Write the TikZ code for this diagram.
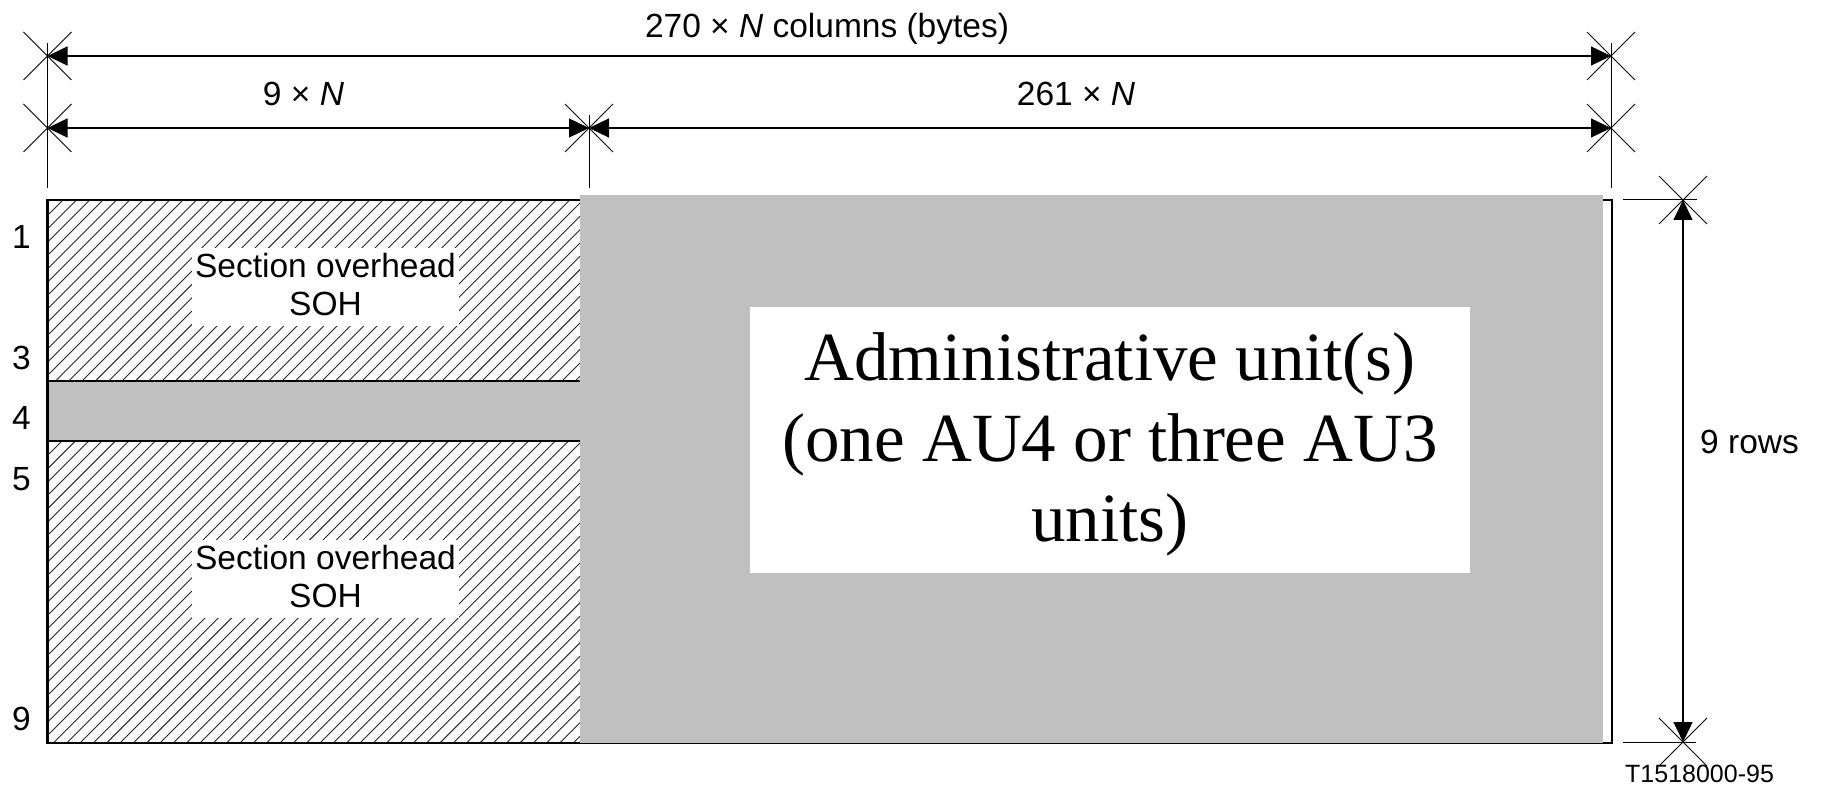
\documentclass[tikz,border=0pt]{standalone}
\usepackage{fontspec}
\setmainfont{Liberation Sans}
\newfontfamily\aufont{Liberation Serif}
\usetikzlibrary{arrows.meta,shapes.misc}

\definecolor{fillgray}{HTML}{C0C0C0}

\tikzset{
  dimline/.style={line width=1.3pt,
    {Triangle[length=20pt,width=19pt]}-{Triangle[length=20pt,width=19pt]}},
  dimhalf/.style={line width=1.3pt, -{Triangle[length=20pt,width=19pt]}},
  extline/.style={line width=1pt},
  dimx/.style={cross out, draw, line width=0.9pt, minimum size=48pt, inner sep=0pt, outer sep=0pt},
  hatchline/.style={line width=0.9pt, black!85},
  framebox/.style={line width=2.2pt},
  txt/.style={font=\fontsize{33.5}{38}\selectfont, inner sep=0pt},
  whitebox/.style={fill=white, inner sep=0pt},
}

\begin{document}
\begin{tikzpicture}[x=1pt,y=-1pt]
\useasboundingbox (0,0) rectangle (1822,786);

% hatched section overhead rows (1-3 and 5-9)
\begin{scope}
  \clip (47.5,200) rectangle (580,381) (47.5,441) rectangle (580,743);
  \foreach \k in {-42,...,40}{
    \pgfmathsetmacro\hc{796.3+13.33*\k}
    \draw[hatchline] (\hc-760,760) -- (\hc-180,180);
  }
\end{scope}

% row 4
\fill[fillgray] (47.5,381) rectangle (580,441);
\draw[line width=2pt] (47.5,381) -- (580,381);
\draw[line width=1.3pt] (47.5,441) -- (580,441);

% frame outline and payload area
\draw[framebox] (47.5,200) rectangle (1612,743);
\fill[fillgray] (580,195) rectangle (1603,743);

% text panels
\node[whitebox, minimum width=267pt, minimum height=78pt] (soh1box) at (325.5,287) {};
\node[txt, align=center] (soh1) at (325.5,285) {Section overhead\\SOH};
\node[whitebox, minimum width=267pt, minimum height=78pt] (soh2box) at (325.5,579) {};
\node[txt, align=center] (soh2) at (325.5,577) {Section overhead\\SOH};

\node[whitebox, minimum width=720pt, minimum height=266pt] (aubox) at (1110,440) {};
\node[font=\aufont\fontsize{69}{80.5}\selectfont, inner sep=0pt, align=center] (au) at (1110,444.5)
  {Administrative unit(s)\\(one AU4 or three AU3\\units)};

% row numbers
\node[txt, anchor=base] (r1) at (21.5,249) {1};
\node[txt, anchor=base] (r3) at (21.5,369) {3};
\node[txt, anchor=base] (r4) at (21.5,429) {4};
\node[txt, anchor=base] (r5) at (21.5,490) {5};
\node[txt, anchor=base] (r9) at (21.5,730) {9};

% extension lines
\coordinate (eLa) at (47.5,43);  \coordinate (eLb) at (47.5,188);
\coordinate (eMa) at (589,115);  \coordinate (eMb) at (589,188);
\coordinate (eRa) at (1611,43);  \coordinate (eRb) at (1611,188);
\coordinate (eTa) at (1623,200); \coordinate (eTb) at (1697,200);
\coordinate (eBa) at (1623,742); \coordinate (eBb) at (1696,742);
\draw[extline] (eLa) -- (eLb);
\draw[extline] (eMa) -- (eMb);
\draw[extline] (eRa) -- (eRb);
\draw[extline] (eTa) -- (eTb);
\draw[extline] (eBa) -- (eBb);

% dimension marks
\node[dimx] (xL1) at (47.5,56) {};
\node[dimx] (xR1) at (1611,56) {};
\node[dimx] (xL2) at (47.5,128) {};
\node[dimx] (xM2) at (589,128) {};
\node[dimx] (xR2) at (1611,128) {};
\node[dimx] (xT)  at (1683,200) {};
\node[dimx] (xB)  at (1683,742) {};

% dimension lines
\draw[dimline] (xL1.center) -- (xR1.center);
\draw[dimline] (xL2.center) -- (xM2.center);
\draw[dimline] (xM2.center) -- (xR2.center);
\draw[dimline] (xT.center) -- (xB.center);

% dimension labels
\node[txt, anchor=base] (wtot) at (827,38) {270 × \textit{N} columns (bytes)};
\node[txt, anchor=base] (wsoh) at (303.5,106) {9 × \textit{N}};
\node[txt, anchor=base] (wau) at (1076,106) {261 × \textit{N}};
\node[txt, anchor=base west] (hrows) at (1700,453) {9 rows};

\node[font=\fontsize{25}{30}\selectfont, inner sep=0pt, anchor=base west] (figid) at (1625,782) {T1518000-95};
\end{tikzpicture}
\end{document}
